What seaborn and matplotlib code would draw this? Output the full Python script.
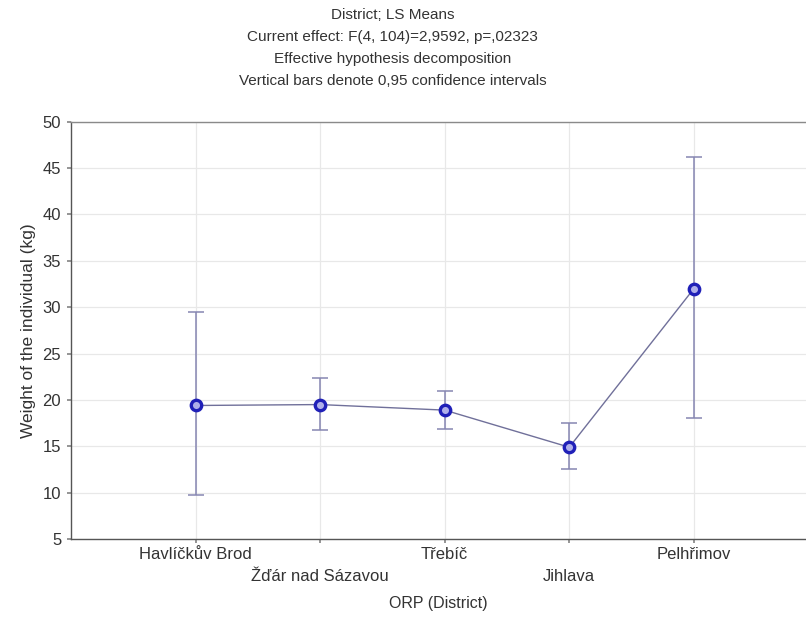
import matplotlib
matplotlib.use("Agg")
import matplotlib.pyplot as plt
import seaborn as sns
import pandas as pd

# LS means of individual weight per district with 0.95 confidence limits
districts = ["Havlíčkův Brod", "Žďár nad Sázavou", "Třebíč", "Jihlava", "Pelhřimov"]
means = [19.4, 19.5, 18.9, 14.9, 32.0]
ci_low = [9.7, 16.8, 16.9, 12.5, 18.1]
ci_high = [29.5, 22.4, 21.0, 17.5, 46.2]
y_ticks = [5, 10, 15, 20, 25, 30, 35, 40, 45, 50]

df = pd.DataFrame({"district": districts, "mean": means})

sns.set_theme(style="whitegrid")
plt.rcParams["font.family"] = ["Liberation Sans", "DejaVu Sans"]

fig = plt.figure(figsize=(8.06, 6.21), dpi=100)
ax = fig.add_axes([0.088, 0.132, 0.912, 0.672])

pos = list(range(len(districts)))

# confidence interval whiskers
ax.errorbar(pos, means,
            yerr=[[m - lo for m, lo in zip(means, ci_low)],
                  [hi - m for m, hi in zip(means, ci_high)]],
            fmt="none", ecolor="#8686b2", elinewidth=1.1, capsize=6,
            capthick=1.1, zorder=2)

sns.lineplot(data=df, x=pos, y="mean", ax=ax, color="#70709a", linewidth=1.0,
             marker="o", markersize=7.5, markeredgewidth=2.4,
             markeredgecolor="#2020b8", markerfacecolor="#b0b0ea", zorder=3)

ax.set_xlim(-1, 4.9)
ax.set_ylim(5, 50)
ax.set_yticks(y_ticks)
ax.set_xticks(pos)
# alternate labels drop to a second row so the long names do not collide
ax.set_xticklabels(["\n" + d if i % 2 else d for i, d in enumerate(districts)],
                   fontsize=12, color="#333333", linespacing=1.55)
ax.tick_params(axis="y", labelsize=12, labelcolor="#333333", length=3,
               color="#888888", left=True, pad=4)
ax.tick_params(axis="x", length=3, color="#888888", bottom=True, pad=3)

ax.grid(True, color="#e8e8e8", linewidth=0.9)
ax.set_facecolor("white")
for side in ["left", "bottom", "top"]:
    ax.spines[side].set_visible(True)
    ax.spines[side].set_color("#555555")
    ax.spines[side].set_linewidth(1.0)
ax.spines["top"].set_color("#8a8a8a")
ax.spines["right"].set_visible(False)

ax.set_xlabel("ORP (District)", fontsize=11.5, color="#333333", labelpad=9)
ax.set_ylabel("Weight of the individual (kg)", fontsize=12.5, color="#333333",
              labelpad=5)

title_lines = ["District; LS Means",
               "Current effect: F(4, 104)=2,9592, p=,02323",
               "Effective hypothesis decomposition",
               "Vertical bars denote 0,95 confidence intervals"]
for i, line in enumerate(title_lines):
    fig.text(0.487, 1 - (15 + 22 * i) / 621, line, ha="center", va="center",
             fontsize=11, color="#333333")

fig.savefig("out.png", dpi=100)
